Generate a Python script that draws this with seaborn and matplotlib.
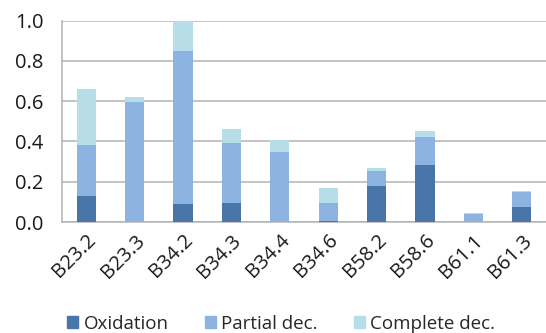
import seaborn as sns
import matplotlib.pyplot as plt
import numpy as np
import pandas as pd

samples = ['B23.2', 'B23.3', 'B34.2', 'B34.3', 'B34.4', 'B34.6', 'B58.2', 'B58.6', 'B61.1', 'B61.3']
oxidation = [0.13, 0.00, 0.087, 0.092, 0.00, 0.007, 0.181, 0.282, 0.00, 0.075]
partial_dec = [0.252, 0.597, 0.762, 0.300, 0.348, 0.088, 0.073, 0.141, 0.042, 0.074]
complete_dec = [0.277, 0.023, 0.151, 0.069, 0.060, 0.073, 0.012, 0.027, 0.005, 0.003]

colors = {'Oxidation': '#4a75aa', 'Partial dec.': '#8db3e2', 'Complete dec.': '#b7dde8'}

df = pd.DataFrame({'sample': samples, 'Oxidation': oxidation,
                   'Partial dec.': partial_dec, 'Complete dec.': complete_dec})
# cumulative tops for stacking
df['top_ox'] = df['Oxidation']
df['top_partial'] = df['top_ox'] + df['Partial dec.']
df['top_complete'] = df['top_partial'] + df['Complete dec.']

sns.set_style('white')
plt.rcParams['font.family'] = ['Open Sans', 'DejaVu Sans']

fig = plt.figure(figsize=(5.46, 3.33), dpi=100)
ax = fig.add_axes([0.1136, 0.3333, 0.8864, 0.6045])

grid_c = '#b3b3b3'
for col, name in [('top_complete', 'Complete dec.'), ('top_partial', 'Partial dec.'), ('top_ox', 'Oxidation')]:
    sns.barplot(data=df, x='sample', y=col, color=colors[name], width=0.4,
                saturation=1, linewidth=0, ax=ax, zorder=3)

ax.set_ylim(0, 1.0)
ax.set_xlim(-0.5, len(samples) - 0.5)
ax.set_yticks([0, 0.2, 0.4, 0.6, 0.8, 1.0])
ax.set_yticklabels(['0.0', '0.2', '0.4', '0.6', '0.8', '1.0'])
ax.yaxis.grid(True, color=grid_c, linewidth=1.1, zorder=0)
ax.set_axisbelow(True)
ax.set_xlabel('')
ax.set_ylabel('')

for s in ['top', 'right']:
    ax.spines[s].set_visible(False)
for s in ['left', 'bottom']:
    ax.spines[s].set_color(grid_c)
    ax.spines[s].set_linewidth(1.1)

ax.tick_params(axis='y', length=6.5, color=grid_c, width=1.1, labelsize=14.5, pad=7, labelcolor='#1a1a1a')
ax.tick_params(axis='x', which='major', length=0, labelsize=14.5, pad=6, labelcolor='#1a1a1a')
ax.set_xticks(np.arange(-0.5, len(samples)), minor=True)
ax.tick_params(axis='x', which='minor', length=6, color=grid_c, width=1.1)
plt.setp(ax.get_xticklabels(), rotation=45, ha='right', rotation_mode='anchor')

handles = [plt.Rectangle((0, 0), 1, 1, color=colors[n]) for n in ['Oxidation', 'Partial dec.', 'Complete dec.']]
fig.legend(handles, ['Oxidation', 'Partial dec.', 'Complete dec.'], loc='center',
           bbox_to_anchor=(0.515, 0.028), ncol=3, frameon=False, fontsize=13.5,
           handlelength=0.6, handleheight=0.6, handletextpad=0.3, columnspacing=1.9)

fig.savefig('out.png', dpi=100)
